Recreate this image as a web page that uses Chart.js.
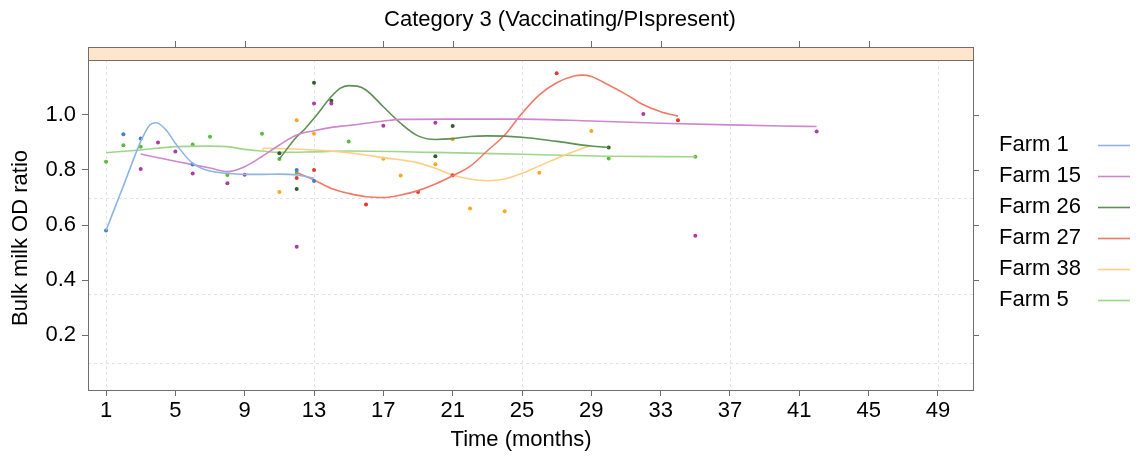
<!DOCTYPE html>
<html lang="en">

<head>
  <meta charset="UTF-8">
  <title>Category 3 (Vaccinating/PIspresent)</title>
  <style>
    html, body {
      margin: 0;
      padding: 0;
      background: #fff;
    }

    #wrap {
      width: 1139px;
      height: 456px;
    }
  </style>
  <script src="https://cdn.jsdelivr.net/npm/chart.js@4"></script>
</head>

<body>
  <div id="wrap"><canvas id="chart" width="1139" height="456"></canvas></div>

  <script>
    // axis ticks and grid
    const xTicks = [1, 5, 9, 13, 17, 21, 25, 29, 33, 37, 41, 45, 49];
    const xTopTicks = [5, 9, 17, 21, 29, 33, 41, 45];
    const xGrid = [1, 13, 25, 37, 49];
    const yTicks = [0.2, 0.4, 0.6, 0.8, 1.0];
    const yGrid = [0.1, 0.35, 0.7];

    const farmNames = ['Farm 1', 'Farm 15', 'Farm 26', 'Farm 27', 'Farm 38', 'Farm 5'];

    // observed points
    const farm1Months = [1, 2, 3, 6, 12, 13];
    const farm1Values = [0.58, 0.93, 0.915, 0.82, 0.80, 0.76];
    const farm15Months = [3, 4, 5, 6, 8, 9, 12, 13, 14, 17, 20, 32, 35, 42];
    const farm15Values = [0.804, 0.90, 0.867, 0.787, 0.752, 0.783, 0.521, 1.042, 1.042, 0.961, 0.972, 1.004, 0.561, 0.94];
    const farm26Months = [11, 12, 13, 14, 20, 21, 30];
    const farm26Values = [0.861, 0.731, 1.117, 1.052, 0.85, 0.96, 0.882];
    const farm27Months = [12, 13, 16, 19, 21, 27, 34];
    const farm27Values = [0.771, 0.80, 0.675, 0.72, 0.781, 1.152, 0.981];
    const farm38Months = [11, 12, 13, 17, 18, 20, 21, 22, 24, 26, 29];
    const farm38Values = [0.72, 0.981, 0.932, 0.841, 0.78, 0.821, 0.912, 0.66, 0.65, 0.79, 0.942];
    const farm5Months = [1, 2, 3, 6, 7, 8, 10, 11, 12, 15, 30, 35];
    const farm5Values = [0.83, 0.89, 0.885, 0.893, 0.921, 0.782, 0.932, 0.84, 0.79, 0.904, 0.842, 0.848];

    // smoothed curves
    const farm1CurveMonths = [1, 2, 3, 3.5, 3.9, 4.5, 5, 6, 7, 8, 9, 10, 11, 12, 13];
    const farm1CurveValues = [0.58, 0.742, 0.903, 0.962, 0.972, 0.943, 0.897, 0.824, 0.796, 0.788, 0.784, 0.784, 0.785, 0.782, 0.77];
    const farm15CurveMonths = [3, 5, 7, 8, 9, 10, 11, 12, 13, 14, 15, 17, 18, 21, 25, 29, 33, 37, 40, 42];
    const farm15CurveValues = [0.858, 0.832, 0.807, 0.794, 0.812, 0.849, 0.891, 0.927, 0.943, 0.955, 0.962, 0.978, 0.984, 0.985, 0.985, 0.978, 0.970, 0.964, 0.960, 0.958];
    const farm26CurveMonths = [11, 12, 12.5, 13, 14, 14.5, 15, 15.5, 16, 17, 18, 19, 20, 21, 22, 23, 25, 27, 29, 30];
    const farm26CurveValues = [0.84, 0.921, 0.951, 0.988, 1.067, 1.097, 1.107, 1.105, 1.091, 1.03, 0.97, 0.924, 0.911, 0.914, 0.922, 0.924, 0.919, 0.904, 0.887, 0.882];
    const farm27CurveMonths = [12, 13, 14, 15, 16, 17, 18, 19, 20, 21, 22, 23, 24, 25, 26, 27, 28, 28.5, 29, 30, 31, 32, 33, 34];
    const farm27CurveValues = [0.791, 0.764, 0.733, 0.715, 0.703, 0.70, 0.709, 0.725, 0.749, 0.779, 0.813, 0.87, 0.927, 1.006, 1.073, 1.117, 1.142, 1.145, 1.14, 1.109, 1.075, 1.037, 1.012, 0.996];
    const farm38CurveMonths = [10, 10.1, 13, 15, 17, 19, 20, 21, 22, 23, 24, 25, 26, 27, 28, 29];
    const farm38CurveValues = [0.867, 0.879, 0.873, 0.863, 0.845, 0.826, 0.806, 0.782, 0.767, 0.761, 0.767, 0.788, 0.815, 0.842, 0.867, 0.89];
    const farm5CurveMonths = [1, 3, 5, 7, 8, 9, 10, 11, 13, 15, 20, 25, 30, 35];
    const farm5CurveValues = [0.863, 0.873, 0.885, 0.887, 0.885, 0.875, 0.869, 0.864, 0.866, 0.869, 0.864, 0.857, 0.85, 0.848];

    const lineColors = ['#8db4e3', '#cc88cc', '#5e8f55', '#f07a68', '#fcd083', '#9fd68a'];
    const pointColors = ['#3f7fd0', '#b03aa8', '#2e5e2e', '#e8382a', '#ffa51f', '#58bd3c'];

    const FONT = '"Liberation Sans", Arial, Helvetica, sans-serif';
    const FRAME = '#6e6e6e';

    const farms = [
      [farm1Months, farm1Values, farm1CurveMonths, farm1CurveValues],
      [farm15Months, farm15Values, farm15CurveMonths, farm15CurveValues],
      [farm26Months, farm26Values, farm26CurveMonths, farm26CurveValues],
      [farm27Months, farm27Values, farm27CurveMonths, farm27CurveValues],
      [farm38Months, farm38Values, farm38CurveMonths, farm38CurveValues],
      [farm5Months, farm5Values, farm5CurveMonths, farm5CurveValues]
    ];

    const datasets = [];
    farms.forEach((f, i) => {
      datasets.push({
        label: farmNames[i],
        data: f[2].map((m, j) => ({ x: m, y: f[3][j] })),
        borderColor: lineColors[i],
        borderWidth: 1.6,
        pointRadius: 0,
        cubicInterpolationMode: 'monotone',
        fill: false
      });
      datasets.push({
        label: farmNames[i] + ' obs',
        data: f[0].map((m, j) => ({ x: m, y: f[1][j] })),
        showLine: false,
        pointRadius: 2,
        pointBorderWidth: 0,
        pointBackgroundColor: pointColors[i],
        borderColor: pointColors[i]
      });
    });

    // lattice-ish decorations: dashed grid, frame, strip, extra ticks, titles, legend
    const latticeDeco = {
      id: 'latticeDeco',
      beforeDatasetsDraw(chart) {
        const { ctx, chartArea: a, scales: { x, y } } = chart;
        ctx.save();
        ctx.strokeStyle = '#e2e2e2';
        ctx.lineWidth = 1;
        ctx.setLineDash([3, 3]);
        xGrid.forEach(v => {
          const px = Math.round(x.getPixelForValue(v)) + 0.5;
          ctx.beginPath();
          ctx.moveTo(px, a.top);
          ctx.lineTo(px, a.bottom);
          ctx.stroke();
        });
        yGrid.forEach(v => {
          const py = Math.round(y.getPixelForValue(v)) + 0.5;
          ctx.beginPath();
          ctx.moveTo(a.left, py);
          ctx.lineTo(a.right, py);
          ctx.stroke();
        });
        ctx.restore();
      },
      afterDraw(chart) {
        const { ctx, chartArea: a, scales: { x, y } } = chart;
        ctx.save();
        ctx.strokeStyle = FRAME;
        ctx.lineWidth = 1;
        // strip
        ctx.fillStyle = '#ffe5cc';
        ctx.fillRect(a.left, a.top - 13, a.right - a.left, 13);
        ctx.strokeRect(Math.round(a.left) + 0.5, Math.round(a.top - 13) + 0.5, Math.round(a.right - a.left), 13);
        // frame
        ctx.strokeRect(Math.round(a.left) + 0.5, Math.round(a.top) + 0.5, Math.round(a.right - a.left), Math.round(a.bottom - a.top));
        // top ticks
        xTopTicks.forEach(v => {
          const px = Math.round(x.getPixelForValue(v)) + 0.5;
          ctx.beginPath();
          ctx.moveTo(px, a.top - 13);
          ctx.lineTo(px, a.top - 19);
          ctx.stroke();
        });
        // right ticks
        yTicks.forEach(v => {
          const py = Math.round(y.getPixelForValue(v)) + 0.5;
          ctx.beginPath();
          ctx.moveTo(a.right, py);
          ctx.lineTo(a.right + 6, py);
          ctx.stroke();
        });
        // titles
        ctx.font = '22px ' + FONT;
        ctx.fillStyle = '#000';
        ctx.textAlign = 'center';
        ctx.textBaseline = 'middle';
        ctx.fillText('Category 3 (Vaccinating/PIspresent)', 560, 20);
        ctx.fillText('Time (months)', 521, 440);
        ctx.save();
        ctx.translate(21, 238);
        ctx.rotate(-Math.PI / 2);
        ctx.fillText('Bulk milk OD ratio', 0, 0);
        ctx.restore();
        // legend
        ctx.textAlign = 'left';
        farmNames.forEach((name, i) => {
          const ly = 145 + i * 31;
          ctx.fillStyle = '#000';
          ctx.fillText(name, 999, ly);
          ctx.strokeStyle = lineColors[i];
          ctx.lineWidth = 1.6;
          ctx.beginPath();
          ctx.moveTo(1098, ly + 0.5);
          ctx.lineTo(1130, ly + 0.5);
          ctx.stroke();
        });
        ctx.restore();
      }
    };

    new Chart(document.getElementById('chart'), {
      type: 'line',
      data: { datasets: datasets },
      options: {
        responsive: false,
        animation: false,
        devicePixelRatio: 1,
        layout: { padding: { left: 0, right: 166, top: 60, bottom: 0 } },
        plugins: {
          legend: { display: false },
          tooltip: { enabled: false },
          title: { display: false }
        },
        scales: {
          x: {
            type: 'linear',
            min: -0.04,
            max: 51.02,
            afterBuildTicks: s => { s.ticks = xTicks.map(v => ({ value: v })); },
            afterFit: s => { s.height = 66; },
            ticks: {
              color: '#000',
              font: { family: FONT, size: 22 },
              padding: 2,
              maxRotation: 0,
              autoSkip: false,
              callback: v => String(v)
            },
            grid: { display: true, drawOnChartArea: false, drawTicks: true, tickLength: 6, color: FRAME },
            border: { display: true, color: FRAME }
          },
          y: {
            min: 0,
            max: 1.2,
            afterBuildTicks: s => { s.ticks = yTicks.map(v => ({ value: v })); },
            afterFit: s => { s.width = 88; },
            ticks: {
              color: '#000',
              font: { family: FONT, size: 22 },
              padding: 6,
              callback: v => v.toFixed(1)
            },
            grid: { display: true, drawOnChartArea: false, drawTicks: true, tickLength: 6, color: FRAME },
            border: { display: true, color: FRAME }
          }
        }
      },
      plugins: [latticeDeco]
    });
  </script>
</body>

</html>
